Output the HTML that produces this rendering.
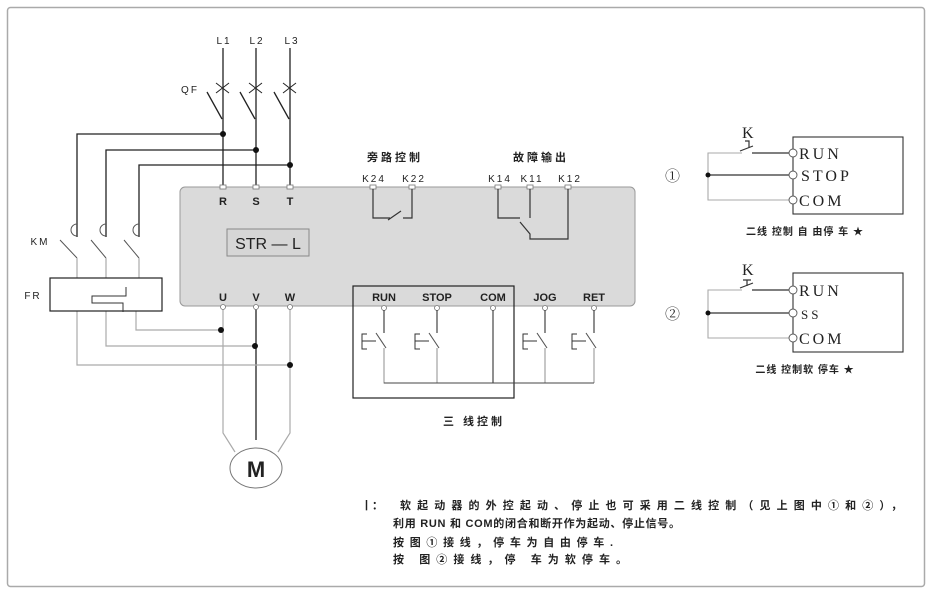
<!DOCTYPE html>
<html><head><meta charset="utf-8"><style>
html,body{margin:0;padding:0;background:#fff;}
svg{display:block;}
text{font-family:"Liberation Sans","Noto Sans CJK SC",sans-serif;fill:#222;}
.serif text{font-family:"Liberation Serif","Noto Serif CJK SC",serif;}
.cn text{font-weight:bold;}
</style></head><body>
<svg width="931" height="593" viewBox="0 0 931 593" xmlns="http://www.w3.org/2000/svg">
<rect x="7.5" y="7.5" width="917" height="579" rx="3" fill="#fff" stroke="#aaa" stroke-width="1.5"/>
<!-- device -->
<rect x="180" y="187" width="455" height="119" rx="5" fill="#dadada" stroke="#999"/>
<rect x="227" y="229" width="82" height="27" fill="#d6d6d6" stroke="#888"/>
<text x="268" y="249" font-size="16" text-anchor="middle">STR — L</text>
<g font-size="11" font-weight="bold" text-anchor="middle" fill="#333">
<text x="223" y="205">R</text><text x="256" y="205">S</text><text x="290" y="205">T</text>
<text x="223" y="301">U</text><text x="256" y="301">V</text><text x="290" y="301">W</text>
<text x="384" y="301">RUN</text><text x="437" y="301">STOP</text><text x="493" y="301">COM</text>
<text x="545" y="301">JOG</text><text x="594" y="301">RET</text>
</g>
<g font-size="10" text-anchor="middle" letter-spacing="2">
<text x="224" y="44">L1</text><text x="257" y="44">L2</text><text x="292" y="44">L3</text>
<text x="190" y="93">QF</text><text x="40" y="245">KM</text><text x="33" y="299">FR</text>
<text x="374" y="182">K24</text><text x="414" y="182">K22</text>
<text x="500" y="182">K14</text><text x="532" y="182">K11</text><text x="570" y="182">K12</text>
</g>
<g class="cn" font-size="11" text-anchor="middle" letter-spacing="3">
<text x="395" y="161">旁路控制</text><text x="541" y="161">故障输出</text>
<text x="474" y="425">三 线控制</text>
<text x="805" y="235" font-size="10" letter-spacing="1">二线 控制 自 由停 车 ★</text>
<text x="805" y="373" font-size="10" letter-spacing="1">二线 控制软 停车 ★</text>
</g>
<!-- power lines -->
<g stroke="#222" stroke-width="1.3" fill="none">
<path d="M223 48V119M256 48V119M290 48V119"/>
<path d="M207 92L222 119M240 92L255 119M274 92L289 119"/>
<path d="M223 119V187M256 119V187M290 119V187"/>
<path d="M223 134H77V237M256 150H106V237M290 165H139V237"/>
<path d="M216 83L229 93M229 83L216 93M249 83L262 93M262 83L249 93M283 83L296 93M296 83L283 93" stroke-width="1"/>
<path d="M256 306V440" />
</g>
<g stroke="#555" stroke-width="1" fill="none">
<path d="M77 224a6 6 0 0 0 0 12M106 224a6 6 0 0 0 0 12M139 224a6 6 0 0 0 0 12"/>
<path d="M60 240L77 258M91 240L106 258M124 240L139 258"/>
</g>
<g stroke="#aaa" stroke-width="1.2" fill="none">
<path d="M77 258V278M106 258V278M139 258V278"/>
<path d="M136 311V330H223M106 311V346H256M77 311V365H290"/>
<path d="M223 306V433L235 452M290 306V433L278 452"/>
</g>
<rect x="50" y="278" width="112" height="33" fill="#fff" stroke="#222" stroke-width="1.2"/>
<path d="M126 287V296H92V303H123V312" fill="none" stroke="#333" stroke-width="1"/>
<g fill="#111"><circle cx="223" cy="134" r="3"/><circle cx="256" cy="150" r="3"/><circle cx="290" cy="165" r="3"/>
<circle cx="221" cy="330" r="3"/><circle cx="255" cy="346" r="3"/><circle cx="290" cy="365" r="3"/></g>
<ellipse cx="256" cy="468" rx="26" ry="20" fill="#fff" stroke="#777"/>
<text x="256" y="477" font-size="22" font-weight="bold" text-anchor="middle">M</text>
<!-- terminals -->
<g fill="#fff" stroke="#777" stroke-width="0.8">
<rect x="220" y="185" width="6" height="4"/><rect x="253" y="185" width="6" height="4"/><rect x="287" y="185" width="6" height="4"/>
<rect x="370" y="185" width="6" height="4"/><rect x="409" y="185" width="6" height="4"/>
<rect x="495" y="185" width="6" height="4"/><rect x="527" y="185" width="6" height="4"/><rect x="565" y="185" width="6" height="4"/>
<circle cx="223" cy="307" r="2.5"/><circle cx="256" cy="307" r="2.5"/><circle cx="290" cy="307" r="2.5"/>
<circle cx="384" cy="308" r="2.5"/><circle cx="437" cy="308" r="2.5"/><circle cx="493" cy="308" r="2.5"/><circle cx="545" cy="308" r="2.5"/><circle cx="594" cy="308" r="2.5"/>
</g>
<!-- relays -->
<g stroke="#333" stroke-width="1.2" fill="none">
<path d="M373 189V218H390M388 220L401 211M403 218H412V189"/>
<path d="M498 189V218H520M530 189V218M520 222L530 234V239H568V189"/>
</g>
<!-- three wire -->
<rect x="353" y="286" width="161" height="112" fill="none" stroke="#222" stroke-width="1.2"/>
<g stroke="#333" stroke-width="1.1" fill="none">
<path d="M384 310V333M437 310V333M545 310V333M594 310V333"/>
<path d="M493 310V383"/>
<path d="M376 333L386 348M429 333L439 348M537 333L547 348M586 333L596 348" stroke="#555"/>
<path d="M367 334H362V349H367M362 341H376M420 334H415V349H420M415 341H429M528 334H523V349H528M523 341H537M577 334H572V349H577M572 341H586" stroke-width="1"/>
</g>
<g stroke="#999" stroke-width="1.1" fill="none">
<path d="M384 348V383H594M437 348V383M545 348V383M594 348V383"/>
</g>
<path d="M384 383H594" stroke="#444" stroke-width="1.1"/>
<!-- two-wire -->
<rect x="793" y="137" width="110" height="77" fill="#fff" stroke="#333" stroke-width="1.1"/>
<rect x="793" y="273" width="110" height="79" fill="#fff" stroke="#333" stroke-width="1.1"/>
<g stroke="#aaa" stroke-width="1.1" fill="none">
<path d="M742 153H708V200H789M742 290H708V338H789"/>
</g>
<g stroke="#333" stroke-width="1.2" fill="none">
<path d="M752 153H789M708 175H789M752 290H789M708 313H789"/>
<path d="M740 151L753 146M745 141H749V148M740 288L753 283M743 280H751M747 280V286"/>
</g>
<g fill="#fff" stroke="#555" stroke-width="0.9">
<circle cx="793" cy="153" r="4"/><circle cx="793" cy="175" r="4"/><circle cx="793" cy="200" r="4"/>
<circle cx="793" cy="290" r="4"/><circle cx="793" cy="313" r="4"/><circle cx="793" cy="338" r="4"/>
</g>
<circle cx="708" cy="175" r="2.5" fill="#111"/><circle cx="708" cy="313" r="2.5" fill="#111"/>
<g class="serif" font-size="16" fill="#222" letter-spacing="3">
<text x="742" y="138" letter-spacing="0">K</text><text x="742" y="275" letter-spacing="0">K</text>
<text x="799" y="159">RUN</text><text x="801" y="181">STOP</text><text x="799" y="206">COM</text>
<text x="799" y="296">RUN</text><text x="801" y="319" font-size="13">SS</text><text x="799" y="344">COM</text>
<text x="665" y="181" font-size="15" letter-spacing="0">①</text><text x="665" y="319" font-size="15" letter-spacing="0">②</text>
</g>
<!-- notes -->
<g class="cn" font-size="11" fill="#333">
<text x="361" y="509">丨：</text>
<text x="400" y="509" textLength="502" lengthAdjust="spacing">软起动器的外控起动、停止也可采用二线控制（见上图中①和②），</text>
<text x="393" y="527" textLength="287" lengthAdjust="spacing">利用 RUN 和 COM的闭合和断开作为起动、停止信号。</text>
<text x="393" y="546" textLength="220" lengthAdjust="spacing">按图①接线，停车为自由停车.</text>
<text x="393" y="563" textLength="234" lengthAdjust="spacing">按 图②接线，停 车为软停车。</text>
</g>
</svg>
</body></html>
